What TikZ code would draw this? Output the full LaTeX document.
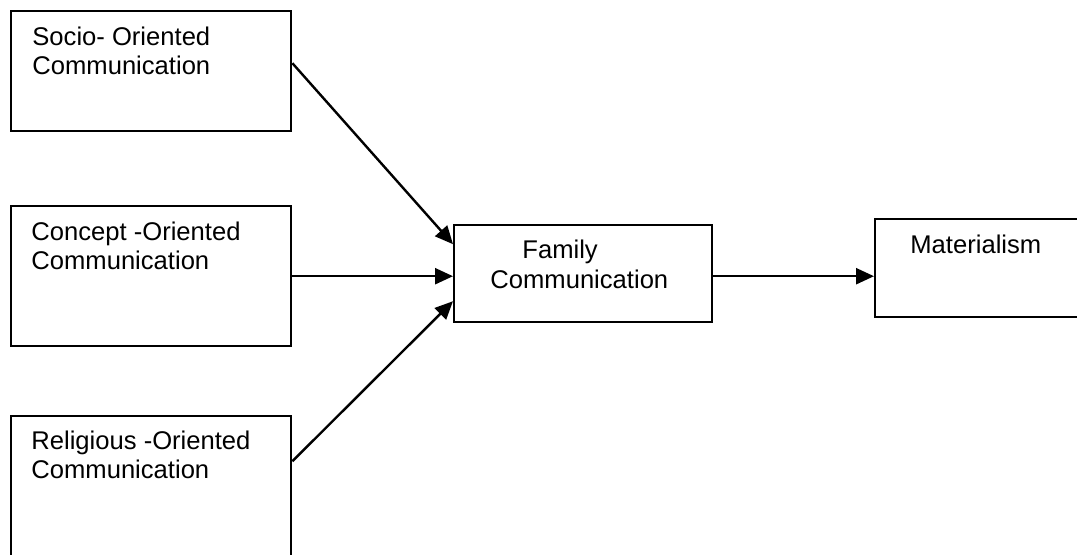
\documentclass[tikz,border=0pt]{standalone}
\usepackage{fontspec}
\setmainfont{Liberation Sans}
\usetikzlibrary{arrows.meta}
\tikzset{
    box/.style={draw,line width=1.2pt,rectangle,anchor=north west,inner sep=0pt},
    txt/.style={anchor=base west,inner sep=0pt},
    link/.style={line width=1.2pt,-{Triangle[length=9pt,width=8pt]}}
}
\begin{document}
\begin{tikzpicture}[x=0.5pt,y=-0.5pt,font=\fontsize{12.8pt}{14.5pt}\selectfont]
                \useasboundingbox (0,0) rectangle (1077,554);
                \node[box,minimum width=140pt,minimum height=60pt] (socio) at (10,10) {};
                \node[box,minimum width=140pt,minimum height=70pt] (concept) at (10,205) {};
                \node[box,minimum width=140pt,minimum height=80pt] (religious) at (10,415) {};
                \node[box,minimum width=129pt,minimum height=48.5pt] (family) at (453,224) {};
                \node[box,minimum width=113pt,minimum height=49pt] (mat) at (874,218) {};
                \node[txt] (socioA) at (32,45) {Socio- Oriented};
                \node[txt] (socioB) at (32,74) {Communication};
                \node[txt] (conceptA) at (31,240) {Concept -Oriented};
                \node[txt] (conceptB) at (31,269) {Communication};
                \node[txt] (religiousA) at (31,449) {Religious -Oriented};
                \node[txt] (religiousB) at (31,478) {Communication};
                \node[txt] (familyA) at (522,258) {Family};
                \node[txt] (familyB) at (490,288) {Communication};
                \node[txt] (matA) at (910,253) {Materialism};
                \draw[link] ([yshift=4pt]socio.east) -- ([yshift=14.75pt]family.west);
                \draw[link] (concept.east) -- (concept.east -| family.west);
                \draw[link] ([yshift=17.5pt]religious.east) -- ([yshift=-13.75pt]family.west);
                \draw[link] ([yshift=-1.25pt]family.east) -- ([yshift=-1.25pt]family.east -| mat.west);
            \end{tikzpicture}
\end{document}
